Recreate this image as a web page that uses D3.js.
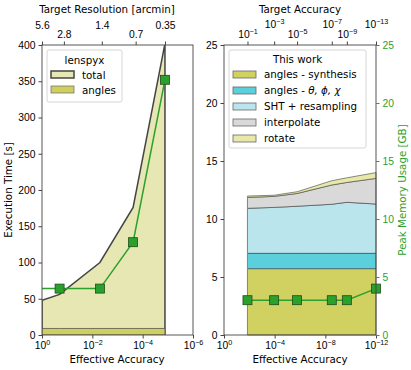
<!DOCTYPE html>
<html>
<head>
<meta charset="utf-8">
<script src="https://cdn.jsdelivr.net/npm/d3@7"></script>
<style>
  body { margin: 0; background: #fff; }
  svg { font-family: "DejaVu Sans", sans-serif; font-size: 10.3px; }
</style>
</head>
<body>
<div class="vis"></div>
<script>
const w = 411;
const h = 370;

// left panel: lenspyx execution time
const leftAcc = [1, 0.2, 0.005, 2.4e-4, 1.3e-5];
const totalTime = [48, 56, 100, 176, 402];
const anglesTime = [9, 9, 9, 9, 9];
const greenTime = [64, 64, 64, 128, 352];
const leftTopLabels = ['5.6', '2.8', '1.4', '0.7', '0.35'];
const leftTopPos = [1, 0.135, 0.0042, 1.9e-4, 1.3e-5];

// right panel: memory per part
const rightAcc = [1.4e-2, 1.1e-4, 1.7e-6, 3.1e-9, 2e-10, 1e-12];
const synthMem = [5.72, 5.72, 5.72, 5.72, 5.72, 5.72];
const thetaMem = [1.32, 1.32, 1.32, 1.32, 1.32, 1.32];
const shtMem = [3.88, 3.96, 4.06, 4.23, 4.4, 4.25];
const interpMem = [0.94, 0.95, 1.1, 1.66, 1.71, 2.21];
const rotateMem = [0.12, 0.1, 0.15, 0.37, 0.4, 0.5];
const peakMem = [3, 3, 3, 3, 3, 4];
const rightTopExp = [-1, -3, -5, -7, -9, -13];

const layerNames = ['angles - synthesis', 'angles - \u03b8, \u03d5, \u03c7', 'SHT + resampling', 'interpolate', 'rotate'];
const layerColors = ['#d1d162', '#5ccfdd', '#bbe5ec', '#d9d9d9', '#e8e8aa'];

const green = '#2ca02c';
const spine = '#444';

const svg = d3.select('.vis').append('svg').attr('width', w).attr('height', h);

const yTop = 45, yBot = 335;

function supLabel(sel, base, exp) {
  sel.text(null);
  sel.append('tspan').text(base);
  sel.append('tspan').attr('dy', -4).style('font-size', '7.2px').text(exp);
}

function frame(x0, x1) {
  svg.append('rect')
    .attr('x', x0).attr('y', yTop)
    .attr('width', x1 - x0).attr('height', yBot - yTop)
    .attr('fill', 'none').attr('stroke', spine).attr('stroke-width', 0.9);
}

function styleAxis(g, col) {
  g.select('.domain').remove();
  g.selectAll('line').attr('stroke', col || spine);
  g.selectAll('text').attr('fill', col || '#000').style('font-size', '10.3px');
}

// ---------- left panel ----------
const xL = d3.scaleLog().domain([1, 1e-6]).range([42, 193]);
const yL = d3.scaleLinear().domain([0, 400]).range([yBot, yTop]);

svg.append('clipPath').attr('id', 'clipL')
  .append('rect').attr('x', 42).attr('y', yTop).attr('width', 151).attr('height', yBot - yTop);

const gL = svg.append('g').attr('clip-path', 'url(#clipL)');

const areaL = (vals) => d3.area()
  .x((d, i) => xL(leftAcc[i]))
  .y0(yL(0))
  .y1((d, i) => yL(vals[i]))(vals);

gL.append('path').attr('d', areaL(totalTime))
  .attr('fill', '#e7e7b3').attr('stroke', '#444').attr('stroke-width', 1.5);
gL.append('path').attr('d', areaL(anglesTime))
  .attr('fill', '#cfcf5f').attr('stroke', '#555').attr('stroke-width', 0.8);

const lineL = d3.line().x((d, i) => xL(leftAcc[i])).y((d) => yL(d));
gL.append('path').attr('d', lineL(greenTime))
  .attr('fill', 'none').attr('stroke', green).attr('stroke-width', 1.5);
gL.selectAll('.mk').data(greenTime.slice(1)).enter().append('rect')
  .attr('x', (d, i) => xL(leftAcc[i + 1]) - 4.5)
  .attr('y', (d) => yL(d) - 4.5)
  .attr('width', 9).attr('height', 9)
  .attr('fill', green).attr('stroke', '#1d4d1d').attr('stroke-width', 0.8);

frame(42, 193);

const axLB = svg.append('g').attr('transform', `translate(0,${yBot})`)
  .call(d3.axisBottom(xL).tickValues([1, 1e-2, 1e-4, 1e-6]).tickSize(3.5).tickPadding(3).tickFormat(() => ''));
styleAxis(axLB);
axLB.selectAll('.tick text').each(function (d) {
  const e = Math.round(Math.log10(d));
  supLabel(d3.select(this), '10', e === 0 ? '0' : '\u2212' + Math.abs(e));
});

const axLL = svg.append('g').attr('transform', 'translate(42,0)')
  .call(d3.axisLeft(yL).tickValues([0, 50, 100, 150, 200, 250, 300, 350, 400]).tickSize(3.5).tickPadding(3));
styleAxis(axLL);

const axLT = svg.append('g').attr('transform', `translate(0,${yTop})`)
  .call(d3.axisTop(xL).tickValues(leftTopPos).tickSize(3.5).tickPadding(3).tickFormat((d, i) => leftTopLabels[i]));
styleAxis(axLT);
axLT.selectAll('.tick text').attr('dy', (d, i) => i % 2 === 0 ? -9.5 : -0.5);

svg.append('text').attr('x', 107).attr('y', 13).attr('text-anchor', 'middle').text('Target Resolution [arcmin]');
svg.append('text').attr('x', 117).attr('y', 363).attr('text-anchor', 'middle').text('Effective Accuracy');
svg.append('text').attr('transform', 'rotate(-90)').attr('x', -190).attr('y', 12)
  .attr('text-anchor', 'middle').text('Execution Time [s]');

// left legend
const legL = svg.append('g');
legL.append('rect').attr('x', 47).attr('y', 50).attr('width', 75).attr('height', 52).attr('rx', 2)
  .attr('fill', 'rgba(255,255,255,0.85)').attr('stroke', '#ccc').attr('stroke-width', 0.8);
legL.append('text').attr('x', 84.5).attr('y', 64).attr('text-anchor', 'middle').text('lenspyx');
legL.append('rect').attr('x', 51).attr('y', 71).attr('width', 23).attr('height', 7)
  .attr('fill', '#e7e7b3').attr('stroke', '#444').attr('stroke-width', 1.5);
legL.append('text').attr('x', 82).attr('y', 78.5).text('total');
legL.append('rect').attr('x', 51).attr('y', 86).attr('width', 23).attr('height', 7)
  .attr('fill', '#cfcf5f').attr('stroke', '#777').attr('stroke-width', 0.8);
legL.append('text').attr('x', 82).attr('y', 93.5).text('angles');

// ---------- right panel ----------
const xR = d3.scaleLog().domain([1, 1e-12]).range([224, 376]);
const yR = d3.scaleLinear().domain([0, 25]).range([yBot, yTop]);

const rows = rightAcc.map((a, i) => ({
  acc: a, l0: synthMem[i], l1: thetaMem[i], l2: shtMem[i], l3: interpMem[i], l4: rotateMem[i]
}));
const stacked = d3.stack().keys(['l0', 'l1', 'l2', 'l3', 'l4'])(rows);

const areaR = d3.area()
  .x((d) => xR(d.data.acc))
  .y0((d) => yR(d[0]))
  .y1((d) => yR(d[1]));

svg.append('g').selectAll('path').data(stacked).enter().append('path')
  .attr('d', areaR)
  .attr('fill', (d, i) => layerColors[i])
  .attr('stroke', '#333').attr('stroke-width', 0.7).attr('stroke-opacity', 0.8);

svg.append('line')
  .attr('x1', xR(rightAcc[0])).attr('x2', xR(rightAcc[0]))
  .attr('y1', yR(0)).attr('y2', yR(stacked[4][0][1]))
  .attr('stroke', '#888').attr('stroke-width', 1);

const lineR = d3.line().x((d, i) => xR(rightAcc[i])).y((d) => yR(d));
svg.append('path').attr('d', lineR(peakMem))
  .attr('fill', 'none').attr('stroke', green).attr('stroke-width', 1.5);
svg.append('g').selectAll('rect').data(peakMem).enter().append('rect')
  .attr('x', (d, i) => xR(rightAcc[i]) - 4.5)
  .attr('y', (d) => yR(d) - 4.5)
  .attr('width', 9).attr('height', 9)
  .attr('fill', green).attr('stroke', '#1d4d1d').attr('stroke-width', 0.8);

frame(224, 376);

const axRB = svg.append('g').attr('transform', `translate(0,${yBot})`)
  .call(d3.axisBottom(xR).tickValues([1, 1e-4, 1e-8, 1e-12]).tickSize(3.5).tickPadding(3).tickFormat(() => ''));
styleAxis(axRB);
axRB.selectAll('.tick text').each(function (d) {
  const e = Math.round(Math.log10(d));
  supLabel(d3.select(this), '10', e === 0 ? '0' : '\u2212' + Math.abs(e));
});

const axRL = svg.append('g').attr('transform', 'translate(224,0)')
  .call(d3.axisLeft(yR).tickValues([0, 5, 10, 15, 20, 25]).tickSize(3.5).tickPadding(3));
styleAxis(axRL);

const axRR = svg.append('g').attr('transform', 'translate(376,0)')
  .call(d3.axisRight(yR).tickValues([0, 5, 10, 15, 20, 25]).tickSize(3.5).tickPadding(3));
styleAxis(axRR, green);

const axRT = svg.append('g').attr('transform', `translate(0,${yTop})`)
  .call(d3.axisTop(xR).tickValues(rightAcc).tickSize(3.5).tickPadding(3).tickFormat(() => ''));
styleAxis(axRT);
axRT.selectAll('.tick text').each(function (d, i) {
  const t = d3.select(this).attr('dy', i % 2 === 0 ? -0.5 : -11);
  supLabel(t, '10', '\u2212' + Math.abs(rightTopExp[i]));
});

svg.append('text').attr('x', 300).attr('y', 13).attr('text-anchor', 'middle').text('Target Accuracy');
svg.append('text').attr('x', 300).attr('y', 363).attr('text-anchor', 'middle').text('Effective Accuracy');
svg.append('text').attr('transform', 'rotate(-90)').attr('x', -190).attr('y', 406)
  .attr('text-anchor', 'middle').attr('fill', green).text('Peak Memory Usage [GB]');

// right legend
const legR = svg.append('g');
legR.append('rect').attr('x', 229).attr('y', 50).attr('width', 137).attr('height', 98).attr('rx', 2)
  .attr('fill', 'rgba(255,255,255,0.85)').attr('stroke', '#ccc').attr('stroke-width', 0.8);
legR.append('text').attr('x', 297.5).attr('y', 63).attr('text-anchor', 'middle').text('This work');
layerNames.forEach((name, i) => {
  const cy = 74.5 + i * 16;
  legR.append('rect').attr('x', 233).attr('y', cy - 3.5).attr('width', 23).attr('height', 7)
    .attr('fill', layerColors[i]).attr('stroke', '#666').attr('stroke-width', 0.8);
  const t = legR.append('text').attr('x', 264).attr('y', cy + 3.5);
  if (i === 1) {
    t.append('tspan').text('angles - ');
    t.append('tspan').style('font-style', 'italic').text('\u03b8, \u03d5, \u03c7');
  } else {
    t.text(name);
  }
});
</script>
</body>
</html>
